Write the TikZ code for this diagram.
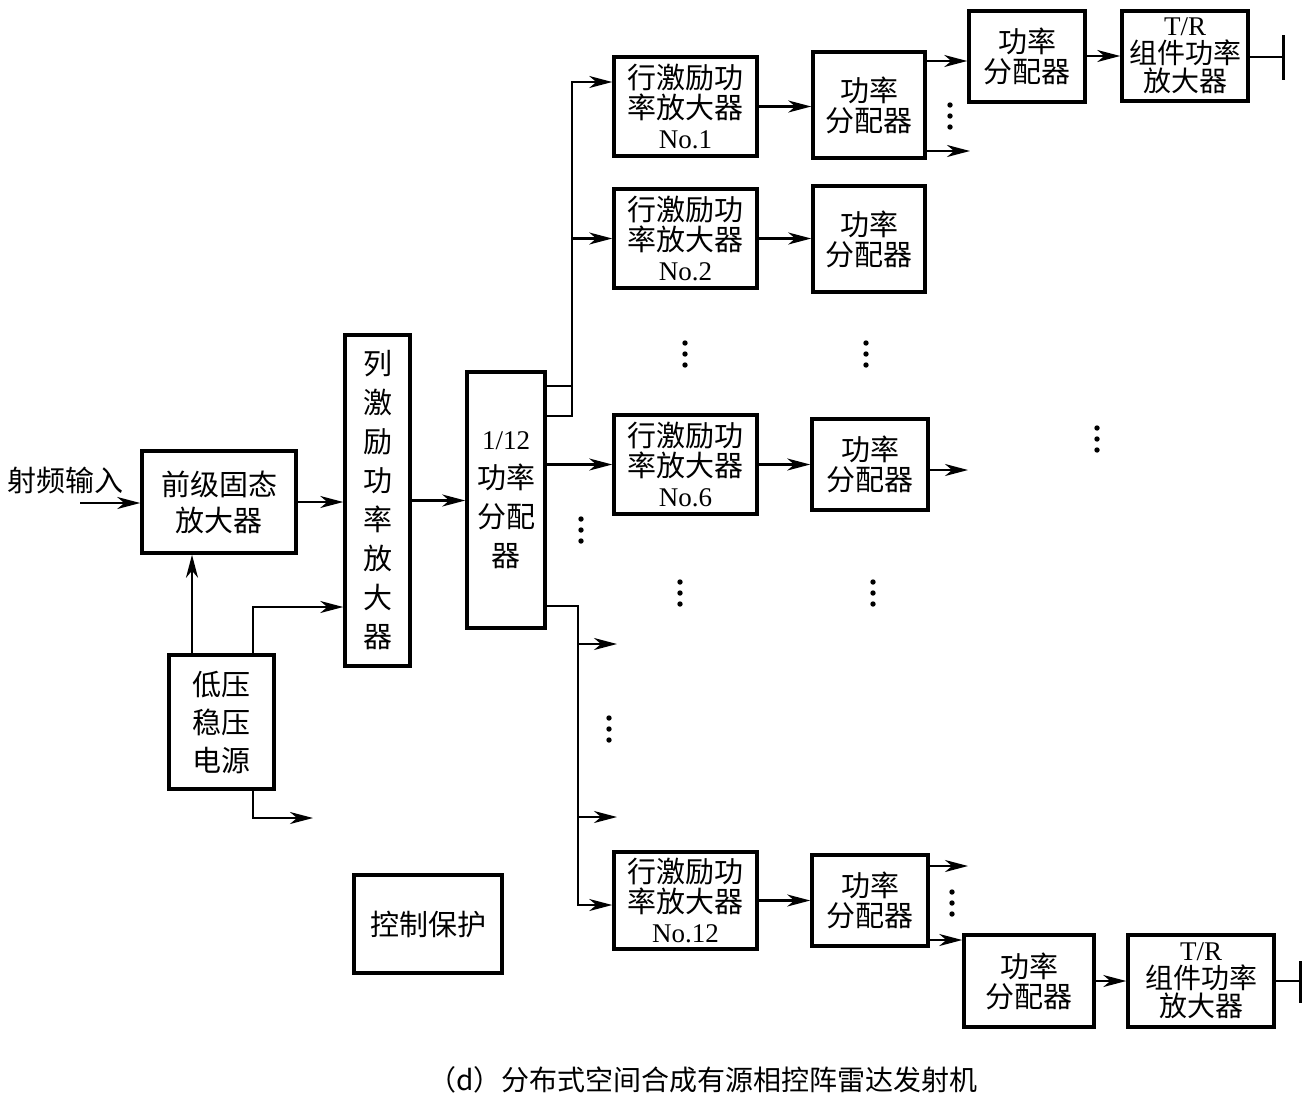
\documentclass[tikz,border=0pt]{standalone}
\usepackage{fontspec}
\setmainfont{Liberation Serif}
\newfontfamily\cjk{Noto Sans CJK SC}
\usetikzlibrary{arrows.meta,calc}
\newcommand{\cjkbody}{\cjk\fontsize{29}{30}\selectfont}
\begin{document}
\begin{tikzpicture}[x=1pt,y=-1pt,
  box/.style={draw, line width=3.5pt, inner sep=0pt, align=center, font=\cjkbody},
  arr/.style={line width=2.2pt, -{Stealth[length=23pt,width=12pt,inset=7pt]}},
  ln/.style={line width=2.2pt},
  bar/.style={line width=3pt},
  lbl/.style={inner sep=0pt, font=\cjkbody}]
\useasboundingbox (0,0) rectangle (1309,1104);
\fill[white] (0,0) rectangle (1309,1104);

% left part
\node[lbl] (lblin) at (66,480) {射频输入};
\node[box, minimum width=154, minimum height=102, font=\cjk\fontsize{29}{36}\selectfont] (pre) at (219,502) {前级固态\\放大器};
\node[box, minimum width=65, minimum height=331, font=\cjk\fontsize{29}{39}\selectfont] (col) at (377.5,500.5) {列\\激\\励\\功\\率\\放\\大\\器};
\node[box, minimum width=78, minimum height=256, font=\cjk\fontsize{29}{39}\selectfont] (div) at (506,500) {{\rmfamily\fontsize{27}{39}\selectfont 1/12}\\功率\\分配\\器};
\node[box, minimum width=105, minimum height=134, font=\cjk\fontsize{29}{38}\selectfont] (lv) at (221.5,722) {低压\\稳压\\电源};
\node[box, minimum width=148, minimum height=98] (ctl) at (428,924) {控制保护};

% rows
\node[box, minimum width=143, minimum height=99] (r1) at (685.5,106.5) {行激励功\\率放大器\\{\rmfamily\fontsize{27}{30}\selectfont No.1}};
\node[box, minimum width=112, minimum height=106] (p1) at (869,105) {功率\\分配器};
\node[box, minimum width=116, minimum height=91] (pa) at (1027,56.5) {功率\\分配器};
\node[box, minimum width=126, minimum height=90, font=\cjk\fontsize{28}{28}\selectfont] (tra) at (1185,56) {{\rmfamily\fontsize{27}{28}\selectfont T/R}\\组件功率\\放大器};

\node[box, minimum width=143, minimum height=99] (r2) at (685.5,238.5) {行激励功\\率放大器\\{\rmfamily\fontsize{27}{30}\selectfont No.2}};
\node[box, minimum width=112, minimum height=106] (p2) at (869,239) {功率\\分配器};

\node[box, minimum width=143, minimum height=99] (r6) at (685.5,464.5) {行激励功\\率放大器\\{\rmfamily\fontsize{27}{30}\selectfont No.6}};
\node[box, minimum width=116, minimum height=91] (p6) at (870,464.5) {功率\\分配器};

\node[box, minimum width=143, minimum height=97] (r12) at (685.5,900.5) {行激励功\\率放大器\\{\rmfamily\fontsize{27}{30}\selectfont No.12}};
\node[box, minimum width=116, minimum height=91] (p12) at (870,900.5) {功率\\分配器};
\node[box, minimum width=130, minimum height=92] (pb) at (1029,981) {功率\\分配器};
\node[box, minimum width=146, minimum height=92, font=\cjk\fontsize{28}{28}\selectfont] (trb) at (1201,981) {{\rmfamily\fontsize{27}{28}\selectfont T/R}\\组件功率\\放大器};

\node[inner sep=0pt, font=\cjk\fontsize{28}{30}\selectfont] (cap) at (703,1080) {（d）分布式空间合成有源相控阵雷达发射机};

% helper coordinates
\coordinate (inp) at (80,503);
\coordinate (v1) at (192,0);
\coordinate (lvb) at (253,607);
\coordinate (lvo) at (313,818);
\coordinate (bt) at (572,82);
\coordinate (h1) at (0,386);
\coordinate (h2) at (0,416);
\coordinate (bb) at (578,905);
\coordinate (h3) at (0,606);
\coordinate (o1) at (617,644);
\coordinate (o2) at (617,817);
\coordinate (h61) at (0,61);
\coordinate (o3) at (970,151);
\coordinate (g1) at (1283,57);
\coordinate (o4) at (968,470);
\coordinate (o5) at (968,866);
\coordinate (h940) at (0,940);
\coordinate (g2) at (1300,981);

% connectors
\draw[arr] (inp) -- (inp -| pre.west);
\draw[arr] (pre.east) -- (pre.east -| col.west);
\draw[arr] (col.east) -- (col.east -| div.west);
\draw[arr] (lv.north -| v1) -- (pre.south -| v1);
\draw[arr] (lv.north -| lvb) |- (col.west |- lvb);
\draw[arr] (lv.south -| lvb) |- (lvo);

\draw[ln] (div.east |- h1) -- (h1 -| bt);
\draw[arr] (div.east |- h2) -| (bt) -- (bt -| r1.west);
\draw[arr] (r2.west -| bt) -- (r2.west);
\draw[arr] (div.east |- r6.west) -- (r6.west);
\draw[arr] (div.east |- h3) -| (bb) -- (bb -| r12.west);
\draw[arr] (o1 -| bb) -- (o1);
\draw[arr] (o2 -| bb) -- (o2);

\draw[arr] (r1.east) -- (r1.east -| p1.west);
\draw[arr] (r2.east) -- (r2.east -| p2.west);
\draw[arr] (r6.east) -- (r6.east -| p6.west);
\draw[arr] (r12.east) -- (r12.east -| p12.west);

\draw[arr] (p1.east |- h61) -- (pa.west |- h61);
\draw[arr] (p1.east |- o3) -- (o3);
\draw[arr] (pa.east |- tra.west) -- (tra.west);
\draw[ln] (tra.east |- g1) -- (g1);
\draw[bar] ($(g1)+(0,-22)$) -- ($(g1)+(0,23)$);

\draw[arr] (p6.east |- o4) -- (o4);

\draw[arr] (p12.east |- o5) -- (o5);
\draw[arr] (p12.east |- h940) -- (pb.west |- h940);
\draw[arr] (pb.east) -- (trb.west);
\draw[ln] (trb.east) -- (g2);
\draw[bar] ($(g2)+(0,-20)$) -- ($(g2)+(0,22)$);

% ellipsis dots
\foreach \dx/\dy in {950/105, 685/343, 866/343, 1097/428, 581/519, 680/582, 873/582, 609/718, 952/892}
  \foreach \k in {0,1,2}
    \fill (\dx,\dy+\k*11) circle[radius=2.7pt];
\end{tikzpicture}
\end{document}
